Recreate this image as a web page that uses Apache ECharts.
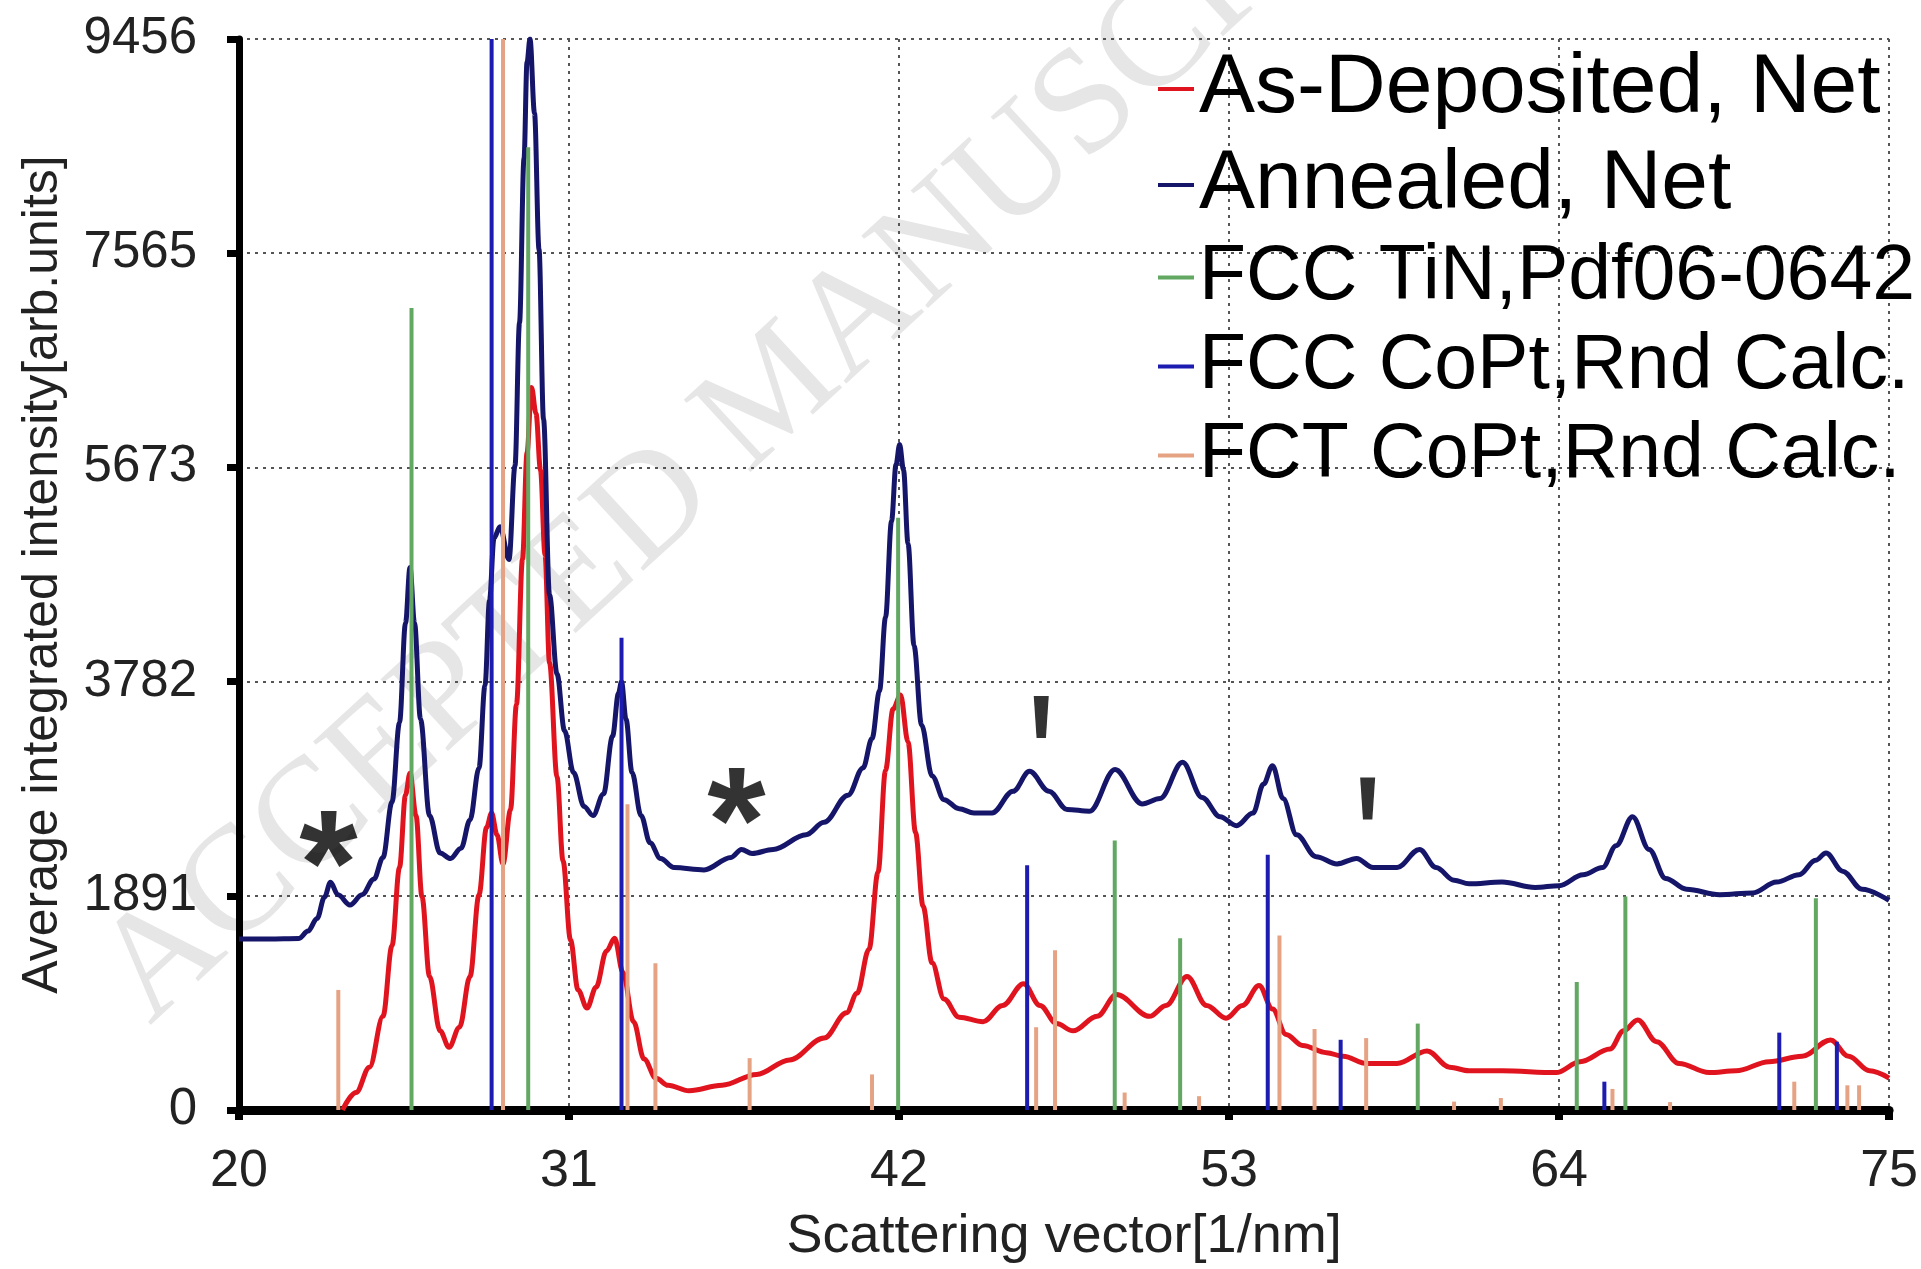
<!DOCTYPE html>
<html>
<head>
<meta charset="utf-8">
<script src="https://cdn.jsdelivr.net/npm/echarts@6/dist/echarts.min.js"></script>
<style>
html,body{margin:0;padding:0;background:#fff}
#chart{width:1921px;height:1269px}
</style>
</head>
<body>
<div id="chart"></div>
<script>
// measured curves [scattering vector, intensity]
var annealed = [[20.0,1510],[21.0,1510],[22.0,1515],[22.3,1580],[22.6,1690],[22.85,1880],[23.05,2010],[23.3,1900],[23.7,1810],[24.1,1900],[24.5,2040],[24.8,2230],[25.1,2720],[25.35,3420],[25.55,4300],[25.7,4790],[25.85,4300],[26.05,3450],[26.35,2600],[26.7,2270],[27.05,2220],[27.4,2310],[27.7,2560],[28.0,3020],[28.2,3750],[28.35,4500],[28.5,5050],[28.7,5150],[29.0,4860],[29.2,5690],[29.35,6950],[29.5,8400],[29.6,9250],[29.7,9456],[29.85,8800],[30.0,7600],[30.15,6100],[30.35,4550],[30.6,3850],[30.85,3350],[31.15,2980],[31.5,2680],[31.8,2600],[32.15,2790],[32.45,3300],[32.65,3680],[32.75,3780],[32.9,3450],[33.1,2980],[33.4,2600],[33.7,2360],[34.05,2220],[34.5,2140],[35.5,2120],[36.4,2230],[36.75,2300],[37.1,2265],[37.8,2300],[38.9,2430],[39.5,2540],[40.3,2780],[40.8,3020],[41.1,3280],[41.35,3700],[41.55,4350],[41.75,5200],[41.9,5700],[42.02,5875],[42.15,5650],[42.3,5000],[42.5,4100],[42.75,3400],[43.1,2950],[43.5,2740],[44.0,2660],[44.5,2622],[45.1,2622],[45.8,2814],[46.35,2990],[47.0,2814],[47.6,2654],[48.35,2638],[49.2,3006],[50.1,2702],[50.7,2750],[51.45,3070],[52.1,2760],[52.7,2590],[53.25,2510],[53.8,2622],[54.15,2878],[54.45,3040],[54.8,2750],[55.25,2430],[55.9,2237],[56.6,2173],[57.25,2221],[57.8,2141],[58.6,2141],[59.35,2301],[59.9,2141],[60.5,2029],[61.0,1997],[62.1,2013],[63.2,1965],[64.0,1981],[64.8,2077],[65.45,2141],[65.9,2333],[66.45,2590],[67.0,2301],[67.55,2045],[68.25,1949],[69.35,1901],[70.45,1917],[71.25,2013],[72.0,2077],[72.55,2205],[72.9,2269],[73.45,2109],[74.1,1949],[75.0,1850]];

var deposited = [[23.45,0],[23.9,154],[24.35,378],[24.8,827],[25.1,1450],[25.35,2141],[25.55,2782],[25.7,2974],[25.9,2600],[26.1,1880],[26.35,1180],[26.7,700],[27.0,554],[27.35,731],[27.7,1179],[28.0,1900],[28.25,2494],[28.42,2622],[28.6,2430],[28.8,2173],[29.05,2650],[29.25,3583],[29.45,4865],[29.6,5800],[29.75,6380],[29.9,6150],[30.05,5650],[30.2,4900],[30.35,3950],[30.6,2942],[30.8,2200],[31.05,1500],[31.3,1060],[31.6,900],[31.9,1083],[32.25,1404],[32.52,1516],[32.8,1212],[33.15,780],[33.5,450],[33.9,280],[34.3,218],[35.0,170],[36.1,218],[37.25,314],[38.35,442],[39.5,635],[40.25,859],[40.6,1030],[41.0,1420],[41.3,2100],[41.55,3000],[41.8,3540],[42.05,3663],[42.3,3250],[42.55,2450],[42.8,1800],[43.1,1300],[43.5,980],[44.0,820],[44.8,779],[45.45,923],[46.15,1115],[46.7,923],[47.25,763],[47.8,699],[48.6,827],[49.25,1019],[50.35,827],[50.9,923],[51.6,1179],[52.25,923],[52.9,811],[53.45,923],[54.0,1099],[54.45,891],[54.9,667],[55.45,570],[56.25,506],[56.8,474],[57.6,410],[58.6,410],[59.6,522],[60.35,378],[61.0,346],[62.1,346],[63.9,330],[64.7,426],[65.7,538],[66.15,699],[66.62,795],[67.25,603],[68.0,410],[69.0,330],[69.9,346],[71.0,426],[72.1,474],[73.05,619],[73.65,474],[74.35,346],[75.0,282]];

// reference stick patterns
var tinPdf = [[25.75,7080],[29.64,8500],[41.97,5230],[49.19,2380],[51.37,1516],[59.29,763],[64.59,1131],[66.21,1885],[72.56,1869]];
var fccCoPt = [[28.42,9456],[32.75,4170],[46.27,2160],[54.29,2253],[56.72,620],[65.51,250],[71.34,683],[73.26,603]];
var fctCoPt = [[23.31,1060],[28.8,9456],[32.95,2700],[33.88,1295],[37.02,458],[41.1,314],[46.57,731],[47.2,1410],[49.52,154],[52.0,122],[54.68,1540],[55.85,715],[57.57,635],[60.5,74],[62.06,106],[65.78,186],[67.7,70],[71.84,250],[73.61,218],[74.0,218]];

// annotation marks
var asterisks = [[22.98,2420],[36.58,2800]];
var ticks = [[46.74,3470],[57.62,2750]];

var yTickLabels = ['0','1891','3782','5673','7565','9456'];
var seriesNames = ['As-Deposited, Net','Annealed, Net','FCC TiN,Pdf06-0642','FCC CoPt,Rnd Calc.','FCT CoPt,Rnd Calc.'];

var chart = echarts.init(document.getElementById('chart'));

function sticks(name, data, color) {
    return {
        name: name,
        type: 'bar',
        data: data,
        barWidth: 4,
        barGap: '-100%',
        itemStyle: {color: color},
        z: 3
    };
}

var option = {
    animation: false,
    backgroundColor: '#fff',
    textStyle: {fontFamily: 'Liberation Sans, Arial, sans-serif'},
    graphic: [{
        type: 'text',
        x: 174,
        y: 1052,
        rotation: 0.745,
        z: 0,
        style: {
            text: 'ACCEPTED MANUSCRIPT',
            fontFamily: 'Liberation Serif, serif',
            fontSize: 150,
            fill: '#e6e6e6',
            textAlign: 'left',
            textVerticalAlign: 'bottom'
        }
    }],
    grid: {left: 239, right: 31, top: 39, bottom: 157, containLabel: false},
    legend: {
        data: seriesNames,
        orient: 'vertical',
        left: 1153,
        top: 42,
        align: 'left',
        icon: 'rect',
        itemWidth: 36,
        itemHeight: 4,
        itemGap: 12,
        formatter: function (name) {
            // the two measured curves are labelled a little larger
            var big = name === seriesNames[0] || name === seriesNames[1];
            return '{' + (big ? 'big' : 'norm') + '|' + name + '}';
        },
        textStyle: {
            color: '#000',
            fontFamily: 'Liberation Sans, Arial, sans-serif',
            rich: {
                big: {fontSize: 84, color: '#000'},
                norm: {fontSize: 77, color: '#000'}
            }
        }
    },
    xAxis: {
        type: 'value',
        min: 20,
        max: 75,
        interval: 11,
        name: 'Scattering vector[1/nm]',
        nameLocation: 'middle',
        nameGap: 100,
        nameTextStyle: {fontSize: 54, color: '#222'},
        axisLine: {onZero: false, lineStyle: {color: '#000', width: 9}},
        axisTick: {length: 10, lineStyle: {color: '#000', width: 8}},
        axisLabel: {fontSize: 52, color: '#222', margin: 36},
        splitLine: {show: true, lineStyle: {color: '#555', width: 2, type: [3, 5]}}
    },
    yAxis: {
        type: 'value',
        min: 0,
        max: 9456,
        interval: 1891.2,
        name: 'Average integrated intensity[arb.units]',
        nameLocation: 'middle',
        nameGap: 171,
        nameTextStyle: {fontSize: 50, color: '#222'},
        axisLine: {show: true, onZero: false, lineStyle: {color: '#000', width: 7}},
        axisTick: {show: true, length: 12, lineStyle: {color: '#000', width: 7}},
        axisLabel: {
            fontSize: 51,
            color: '#222',
            margin: 42,
            formatter: function (v) { return yTickLabels[Math.round(v / 1891.2)]; }
        },
        splitLine: {show: true, lineStyle: {color: '#555', width: 2, type: [3, 5]}}
    },
    series: [
        {
            name: seriesNames[0],
            type: 'line',
            data: deposited,
            showSymbol: false,
            smooth: 0.35,
            smoothMonotone: 'x',
            itemStyle: {color: '#e0141e'},
            lineStyle: {color: '#e0141e', width: 5},
            z: 2
        },
        {
            name: seriesNames[1],
            type: 'line',
            data: annealed,
            showSymbol: false,
            smooth: 0.35,
            smoothMonotone: 'x',
            itemStyle: {color: '#15156a'},
            lineStyle: {color: '#15156a', width: 5},
            z: 2
        },
        sticks(seriesNames[2], tinPdf, '#62a862'),
        sticks(seriesNames[3], fccCoPt, '#1c1cb0'),
        sticks(seriesNames[4], fctCoPt, '#e6a384'),
        {
            type: 'scatter',
            data: asterisks,
            symbolSize: 1,
            itemStyle: {color: 'rgba(0,0,0,0)'},
            label: {
                show: true,
                position: 'inside',
                formatter: '*',
                fontSize: 150,
                fontWeight: 'bold',
                color: '#000',
                offset: [0, 38]
            },
            z: 4
        },
        {
            type: 'scatter',
            data: ticks,
            symbol: 'path://M0,0 L16,0 L13,44 L3,44 Z',
            symbolSize: [15, 42],
            itemStyle: {color: '#000'},
            z: 4
        }
    ]
};
chart.setOption(option);
</script>
</body>
</html>
